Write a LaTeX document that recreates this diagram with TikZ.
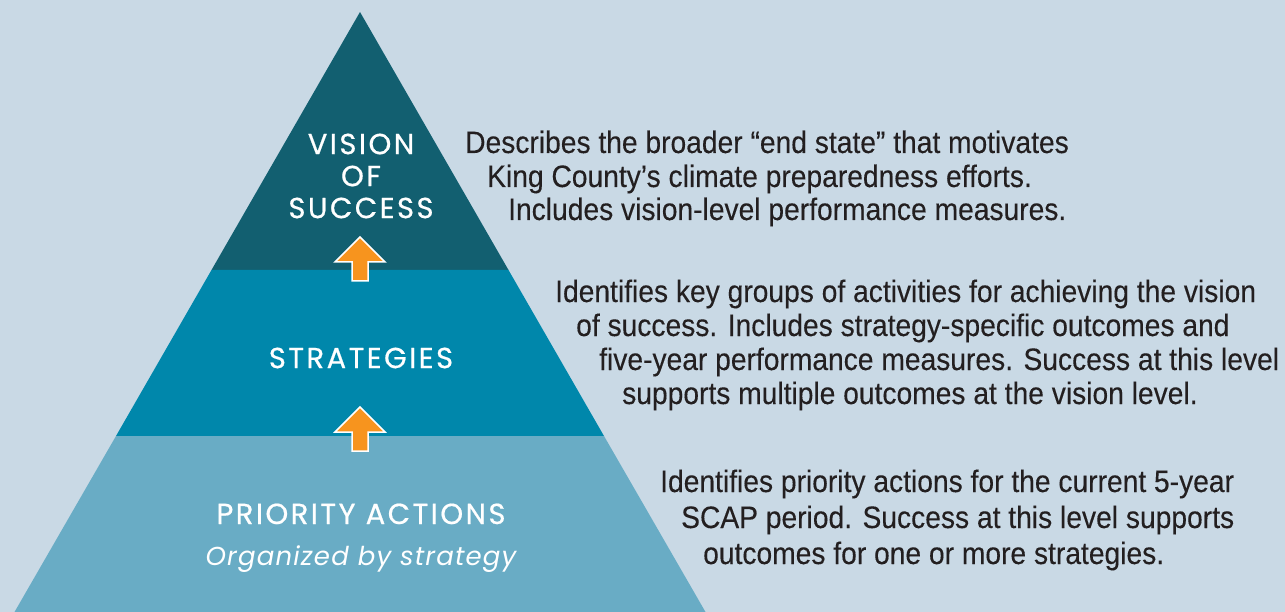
\documentclass[tikz,border=0pt]{standalone}
\usepackage{fontspec}
\newfontfamily\descfont{Liberation Sans}[FakeStretch=0.91, FakeBold=0.2]
\newfontfamily\levelfont{Poppins}[LetterSpace=8.5, FakeBold=0.6]
\newfontfamily\organizedfont{Poppins}[LetterSpace=4.5]
\usetikzlibrary{positioning}
\definecolor{bgblue}{HTML}{C9D9E5}
\definecolor{visionteal}{HTML}{125F70}
\definecolor{strategyblue}{HTML}{0087AB}
\definecolor{actionblue}{HTML}{69ACC5}
\definecolor{arroworange}{HTML}{F7941E}
\definecolor{ink}{HTML}{231F20}

\begin{document}
\begin{tikzpicture}[
		x=1pt, y=-1pt,
		level/.style={font=\levelfont\fontsize{29}{32}\selectfont, text=white, align=center, inner sep=0pt},
		desc/.style={font=\descfont\fontsize{31}{34}\selectfont, text=ink, anchor=base west, inner sep=0pt},
		uparrow/.style={fill=arroworange, draw=white, line width=1.5pt, line join=miter}
		]
		
		% BACKGROUND
		\fill[bgblue] (0,0) rectangle (1285,612);
		\useasboundingbox (0,0) rectangle (1285,612);
		
		% PYRAMID BANDS
		\fill[visionteal] (360,12) -- (508.5,270) -- (211.5,270) -- cycle;
		\fill[strategyblue] (211.5,270) -- (508.5,270) -- (604,436) -- (116,436) -- cycle;
		\fill[actionblue] (116,436) -- (604,436) -- (705.5,612) -- (14.5,612) -- cycle;
		
		% LEVEL LABELS
		\node[level] (vision) at (361,176) {VISION\\OF\\SUCCESS};
		\node[level] (strategies) at (361,358) {STRATEGIES};
		\node[level, anchor=base] (actions) at (361,524) {PRIORITY ACTIONS};
		\node[level, anchor=base, font=\organizedfont\itshape\fontsize{26}{30}\selectfont] (organized) at (361,565) {Organized by strategy};
		
		% ARROWS BETWEEN LEVELS
		\draw[uparrow] (360,237) -- (385,262) -- (368,262) -- (368,281) -- (352,281) -- (352,262) -- (335,262) -- cycle;
		\draw[uparrow] (360,407) -- (385,432) -- (368,432) -- (368,451) -- (352,451) -- (352,432) -- (335,432) -- cycle;
		
		% VISION TEXT
		\node[desc] (vis1) at (465,153) {Describes the broader “end state” that motivates};
		\node[desc] (vis2) at (487,187) {King County’s climate preparedness efforts.};
		\node[desc] (vis3) at (508,220) {Includes vision-level performance measures.};
		
		% STRATEGY TEXT
		\node[desc] (str1) at (555,302) {Identifies key groups of activities for achieving the vision};
		\node[desc] (str2) at (576,336) {of success. Includes strategy-specific outcomes and};
		\node[desc] (str3) at (599,370) {five-year performance measures. Success at this level};
		\node[desc] (str4) at (622,404) {supports multiple outcomes at the vision level.};
		
		% ACTION TEXT
		\node[desc] (act1) at (660,492) {Identifies priority actions for the current 5-year};
		\node[desc] (act2) at (681,528) {SCAP period. Success at this level supports};
		\node[desc] (act3) at (703,564) {outcomes for one or more strategies.};
		
	\end{tikzpicture}
\end{document}
